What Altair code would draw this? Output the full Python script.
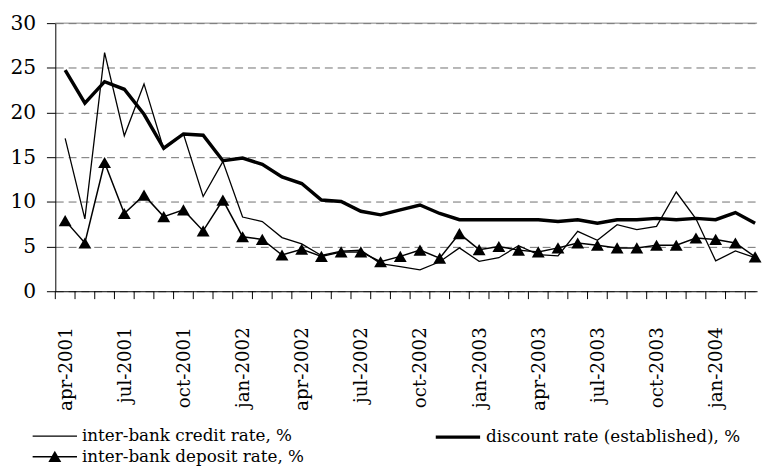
import altair as alt
import pandas as pd

months = ["apr-2001", "may-2001", "jun-2001", "jul-2001", "aug-2001", "sep-2001",
          "oct-2001", "nov-2001", "dec-2001", "jan-2002", "feb-2002", "mar-2002",
          "apr-2002", "may-2002", "jun-2002", "jul-2002", "aug-2002", "sep-2002",
          "oct-2002", "nov-2002", "dec-2002", "jan-2003", "feb-2003", "mar-2003",
          "apr-2003", "may-2003", "jun-2003", "jul-2003", "aug-2003", "sep-2003",
          "oct-2003", "nov-2003", "dec-2003", "jan-2004", "feb-2004", "mar-2004"]

credit = [17.1, 8.1, 26.7, 17.4, 23.2, 15.9, 17.6, 10.6, 14.5, 8.3, 7.8, 6.0,
          5.3, 4.0, 4.5, 4.6, 3.1, 2.75, 2.4, 3.3, 4.85, 3.35, 3.75, 5.1,
          4.1, 3.95, 6.7, 5.7, 7.45, 6.9, 7.25, 11.1, 8.1, 3.4, 4.5, 3.75]

discount = [24.75, 21.05, 23.45, 22.6, 19.8, 16.0, 17.6, 17.45, 14.6, 14.9, 14.2, 12.8,
            12.05, 10.2, 10.05, 8.95, 8.55, 9.1, 9.65, 8.7, 8.0, 8.0, 8.0, 8.0,
            8.0, 7.8, 8.0, 7.6, 8.0, 8.0, 8.15, 8.0, 8.15, 8.0, 8.8, 7.6]

deposit = [7.9, 5.4, 14.4, 8.7, 10.75, 8.35, 9.1, 6.75, 10.2, 6.1, 5.8, 4.05,
           4.7, 3.9, 4.4, 4.4, 3.3, 3.9, 4.6, 3.7, 6.45, 4.65, 5.0, 4.6,
           4.4, 4.85, 5.4, 5.15, 4.85, 4.85, 5.15, 5.15, 5.95, 5.8, 5.4, 3.85]

names = ["inter-bank credit rate, %", "discount rate (established), %",
         "inter-bank deposit rate, %"]

y_ticks = [0, 5, 10, 15, 20, 25, 30]
label_idx = list(range(0, 36, 3))

series_values = [credit, discount, deposit]
frames = []
for name, vals in zip(names, series_values):
    frames.append(pd.DataFrame({"k": list(range(len(months))), "series": name,
                                "value": vals}))

bounds = pd.DataFrame({"b": [i - 0.5 for i in range(len(months))]})
top = pd.DataFrame({"v": [30]})

W, H = 712, 272
xscale = alt.Scale(domain=[-0.5, 35.1], nice=False, zero=False)
yscale = alt.Scale(domain=[0, 30], nice=False)
FONT = "DejaVu Serif"

label_arr = "[" + ",".join("'" + m + "'" for m in months) + "]"

x_axis = alt.Axis(values=label_idx, labelExpr=label_arr + "[datum.value]",
                  labelAngle=270, labelAlign="right", labelBaseline="middle",
                  ticks=False, labelPadding=36, title=None, grid=False,
                  domainColor="black", domainWidth=1, labelFont=FONT,
                  labelFontSize=18.5, labelColor="black")
y_axis = alt.Axis(values=y_ticks, title=None, grid=True, gridDash=[8, 5],
                  gridColor="#707070", gridWidth=1, tickSize=9, tickColor="black",
                  domainColor="black", labelFontSize=20.5, labelFont=FONT,
                  labelColor="black", labelPadding=11, minExtent=48, maxExtent=48)

widths = [1.3, 3.5, 1.5]
legend_pos = [(-24, 395.5), (384, 395.5), (-24, 416.5)]


def make_legend(x, y, sw):
    return alt.Legend(title=None, orient="none", legendX=x, legendY=y, padding=0,
                      symbolType="stroke", symbolSize=2025, symbolStrokeWidth=sw,
                      symbolStrokeColor="black", labelOffset=4, labelFont=FONT,
                      labelFontSize=17, labelColor="black", labelLimit=500)


def X(field):
    return alt.X(field, scale=xscale, axis=x_axis)


def Y(field):
    return alt.Y(field, scale=yscale, axis=y_axis)


rule_top = alt.Chart(top).mark_rule(color="#808080", strokeWidth=1).encode(
    y=Y("v:Q"))

ticks = alt.Chart(bounds).mark_rule(color="black", strokeWidth=1).encode(
    x=X("b:Q"), y=alt.value(H), y2=alt.value(H + 8))

layers = [rule_top]
for i, (name, f) in enumerate(zip(names, frames)):
    lx, ly = legend_pos[i]
    layers.append(
        alt.Chart(f).mark_line(strokeWidth=widths[i]).encode(
            x=X("k:Q"), y=Y("value:Q"),
            color=alt.Color("series:N",
                            scale=alt.Scale(domain=[name], range=["black"]),
                            legend=make_legend(lx, ly, widths[i])),
        )
    )

points = alt.Chart(frames[2]).mark_point(filled=True, size=170, opacity=1).encode(
    x=X("k:Q"), y=Y("value:Q"),
    shape=alt.Shape("series:N",
                    scale=alt.Scale(domain=[names[2]], range=["triangle-up"]),
                    legend=alt.Legend(title=None, orient="none", legendX=-7.5,
                                      legendY=416.5 + 16, padding=0, symbolSize=170,
                                      symbolFillColor="black", symbolStrokeWidth=0,
                                      labelExpr="''", labelFontSize=1,
                                      symbolOpacity=1)),
    color=alt.value("black"),
)
layers.append(points)
layers.append(ticks)

chart = alt.layer(*layers).resolve_scale(color="independent", shape="independent").properties(
    width=W, height=H,
    padding={"left": 0, "top": 2, "right": 0, "bottom": 0},
    background="white",
).configure_view(stroke=None)

chart.save("out.html", embed_options={"renderer": "svg", "actions": False})
